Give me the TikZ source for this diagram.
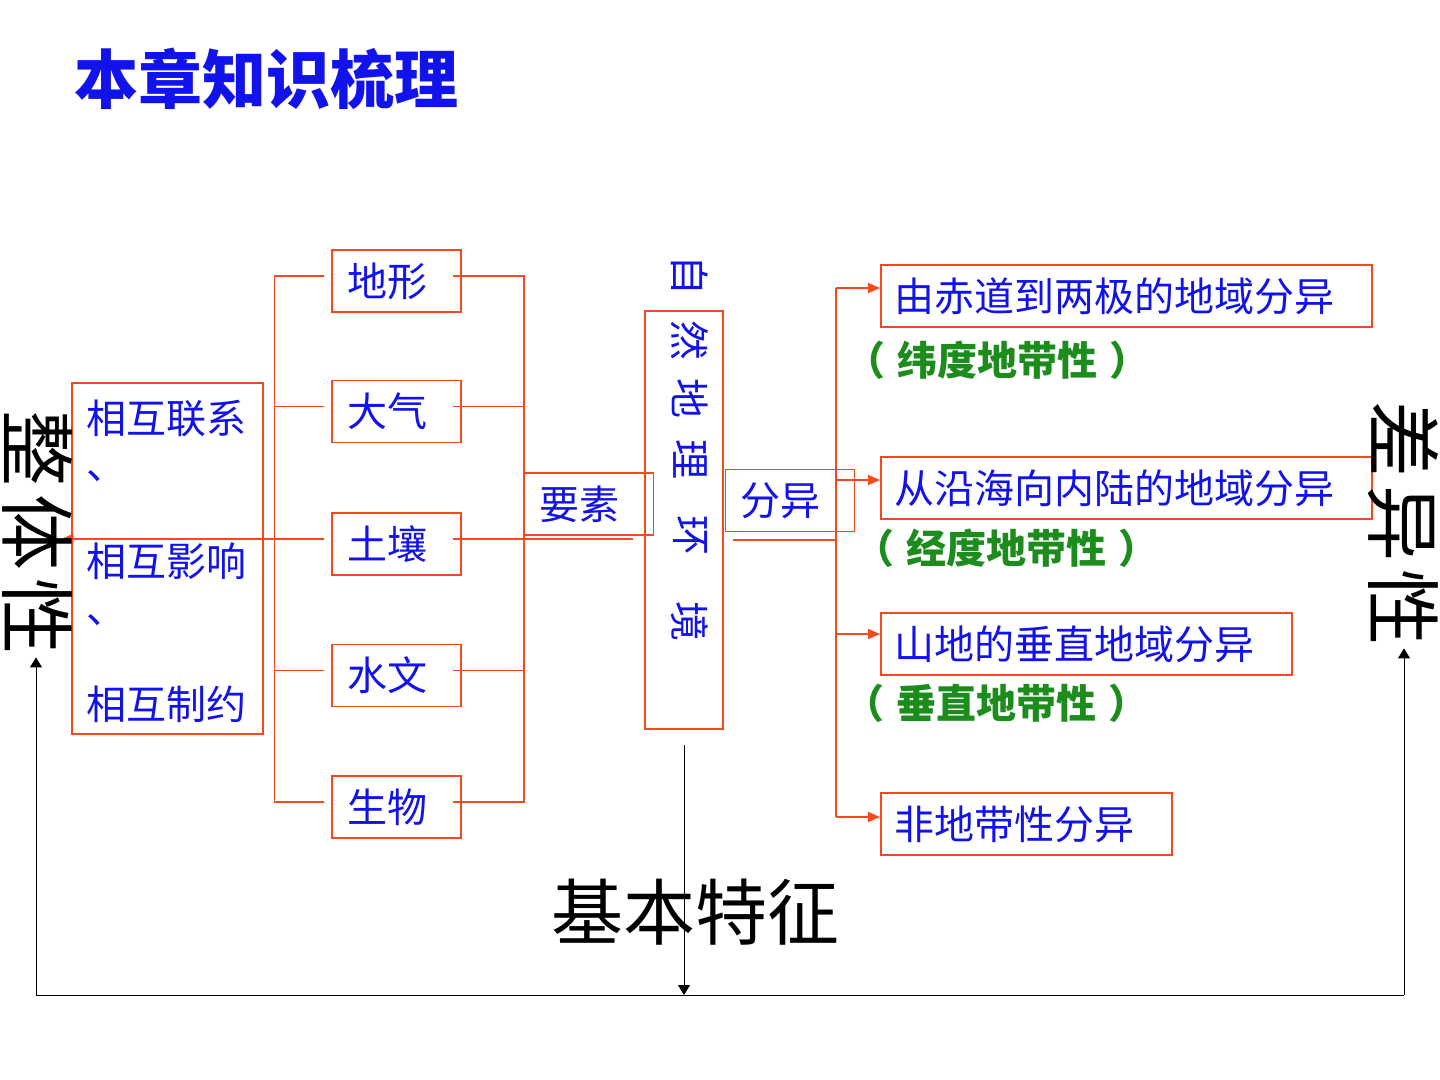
\documentclass[tikz,border=0pt]{standalone}
\usepackage{fontspec}
\newfontfamily\cjk{Noto Sans CJK SC}
\usetikzlibrary{arrows.meta}
\definecolor{lred}{RGB}{248,72,32}
\definecolor{tblue}{RGB}{18,18,235}
\definecolor{tgreen}{RGB}{28,140,28}
\newdimen\px \px=0.5pt
\begin{document}
\begin{tikzpicture}[x=0.5pt, y=-0.5pt,
  redline/.style={draw=lred, line width=0.75pt},
  redarrow/.style={redline, -{Triangle[length=6pt, width=5pt]}, lred},
  kline/.style={draw=black, line width=0.5pt},
  karrow/.style={kline, -{Triangle[length=5pt, width=6pt]}},
  btxt/.style={text=tblue, font=\cjk\fontsize{20pt}{24pt}\selectfont},
  gtxt/.style={text=tgreen, font=\cjk\bfseries\fontsize{20pt}{24pt}\selectfont},
  bigtxt/.style={text=black, font=\cjk\fontsize{38pt}{44pt}\selectfont, inner sep=2\px},
  rbox/.style={draw=lred, line width=0.75pt},
  ebox/.style={rbox, btxt, minimum height=62\px, align=left, text width=99\px, inner xsep=15\px},
  tbox/.style={rbox, btxt, minimum height=62\px, align=left, inner xsep=14\px, anchor=west}]
  \useasboundingbox[fill=white] (0,0) rectangle (1440,1080);

  \node[text=tblue, font=\cjk\bfseries\fontsize{32pt}{36pt}\selectfont] (title) at (266,79) {本章知识梳理};

  % left column
  \node[rbox, minimum width=191\px, minimum height=351\px] (lianxi) at (167.5,558.5) {};
  \node[btxt, anchor=west, inner sep=0] (lx1) at (86,418) {相互联系};
  \node[btxt, anchor=west, inner sep=0] (lx2) at (86,476) {、};
  \node[btxt, anchor=west, inner sep=0] (lx3) at (86,561) {相互影响};
  \node[btxt, anchor=west, inner sep=0] (lx4) at (86,620) {、};
  \node[btxt, anchor=west, inner sep=0] (lx5) at (86,704) {相互制约};

  % elements
  \node[ebox] (dixing)  at (396.5,281)   {地形};
  \node[ebox] (daqi)    at (396.5,411.5) {大气};
  \node[ebox] (turang)  at (396.5,544)   {土壤};
  \node[ebox] (shuiwen) at (396.5,675.5) {水文};
  \node[ebox] (shengwu) at (396.5,807)   {生物};

  \foreach \n in {dixing,daqi,shuiwen,shengwu}{
    \draw[redline] ([xshift=-7\px,yshift=5\px]\n.west) -- ++(-50,0);
    \draw[redline] ([xshift=-9\px,yshift=5\px]\n.east) -- ++(71,0);
  }
  \draw[redline] ([xshift=-57\px,yshift=6\px]dixing.west) -- ([xshift=-57\px,yshift=4\px]shengwu.west);
  \draw[redline] ([xshift=62\px,yshift=6\px]dixing.east) -- ([xshift=62\px,yshift=4\px]shengwu.east);
  \draw[redarrow] ([xshift=-7\px,yshift=5\px]turang.west) -- ++(-263,0);
  \draw[redline] ([xshift=-9\px,yshift=5\px]turang.east) -- ++(180,0);

  \node[ebox] (yaosu) at (589,504) {要素};

  % centre
  \node[rbox, minimum width=78\px, minimum height=418\px] (huanjing) at (684,520) {};
  \foreach \c/\y [count=\i] in {自/276,然/341,地/399,理/460,环/536,境/621}
    \node[btxt, rotate=-90, inner sep=0] (hj\i) at (690,\y) {\c};

  \node[ebox] (fenyi) at (790,500.5) {分异};
  \draw[redline] ([xshift=9\px,yshift=-20\px]huanjing.east) -- ++(104,0);

  % right column
  \node[tbox, text width=463\px] (r1) at (880,296) {由赤道到两极的地域分异};
  \node[tbox, text width=463\px] (r2) at (880,488) {从沿海向内陆的地域分异};
  \node[tbox, text width=383\px] (r3) at (880,644) {山地的垂直地域分异};
  \node[tbox, text width=263\px] (r4) at (880,824) {非地带性分异};
  \node[gtxt] (g1) at (997,360)  {（\hspace{12\px}纬度地带性\hspace{12\px}）};
  \node[gtxt] (g2) at (1006,548) {（\hspace{12\px}经度地带性\hspace{12\px}）};
  \node[gtxt] (g3) at (996,703)  {（\hspace{12\px}垂直地带性\hspace{12\px}）};

  \draw[redline] ([xshift=-44\px,yshift=8\px]r1.west) -- ([xshift=-44\px,yshift=7\px]r4.west);
  \foreach \n/\d in {r1/8,r2/8,r3/10,r4/7}
    \draw[redarrow] ([xshift=-44\px,yshift=\d\px]\n.west) -- ([yshift=\d\px]\n.west);

  % features
  \node[bigtxt, rotate=-90] (zhengti) at (37,533) {整\hspace{8\px}体\hspace{8\px}性};
  \node[bigtxt, rotate=-90] (chayi) at (1403,524) {差\hspace{8\px}异\hspace{8\px}性};
  \node[text=black, font=\cjk\fontsize{36pt}{40pt}\selectfont] (jiben) at (695,912) {基本特征};

  \coordinate (bl) at (36,995);
  \coordinate (br) at (1404,995);
  \draw[kline] (bl) -- (br);
  \draw[karrow] (bl) -- (bl |- zhengti.east);
  \draw[karrow] (br) -- (br |- chayi.east);
  \draw[karrow] ([yshift=-15\px]huanjing.south) -- (huanjing.south |- bl);
\end{tikzpicture}
\end{document}
